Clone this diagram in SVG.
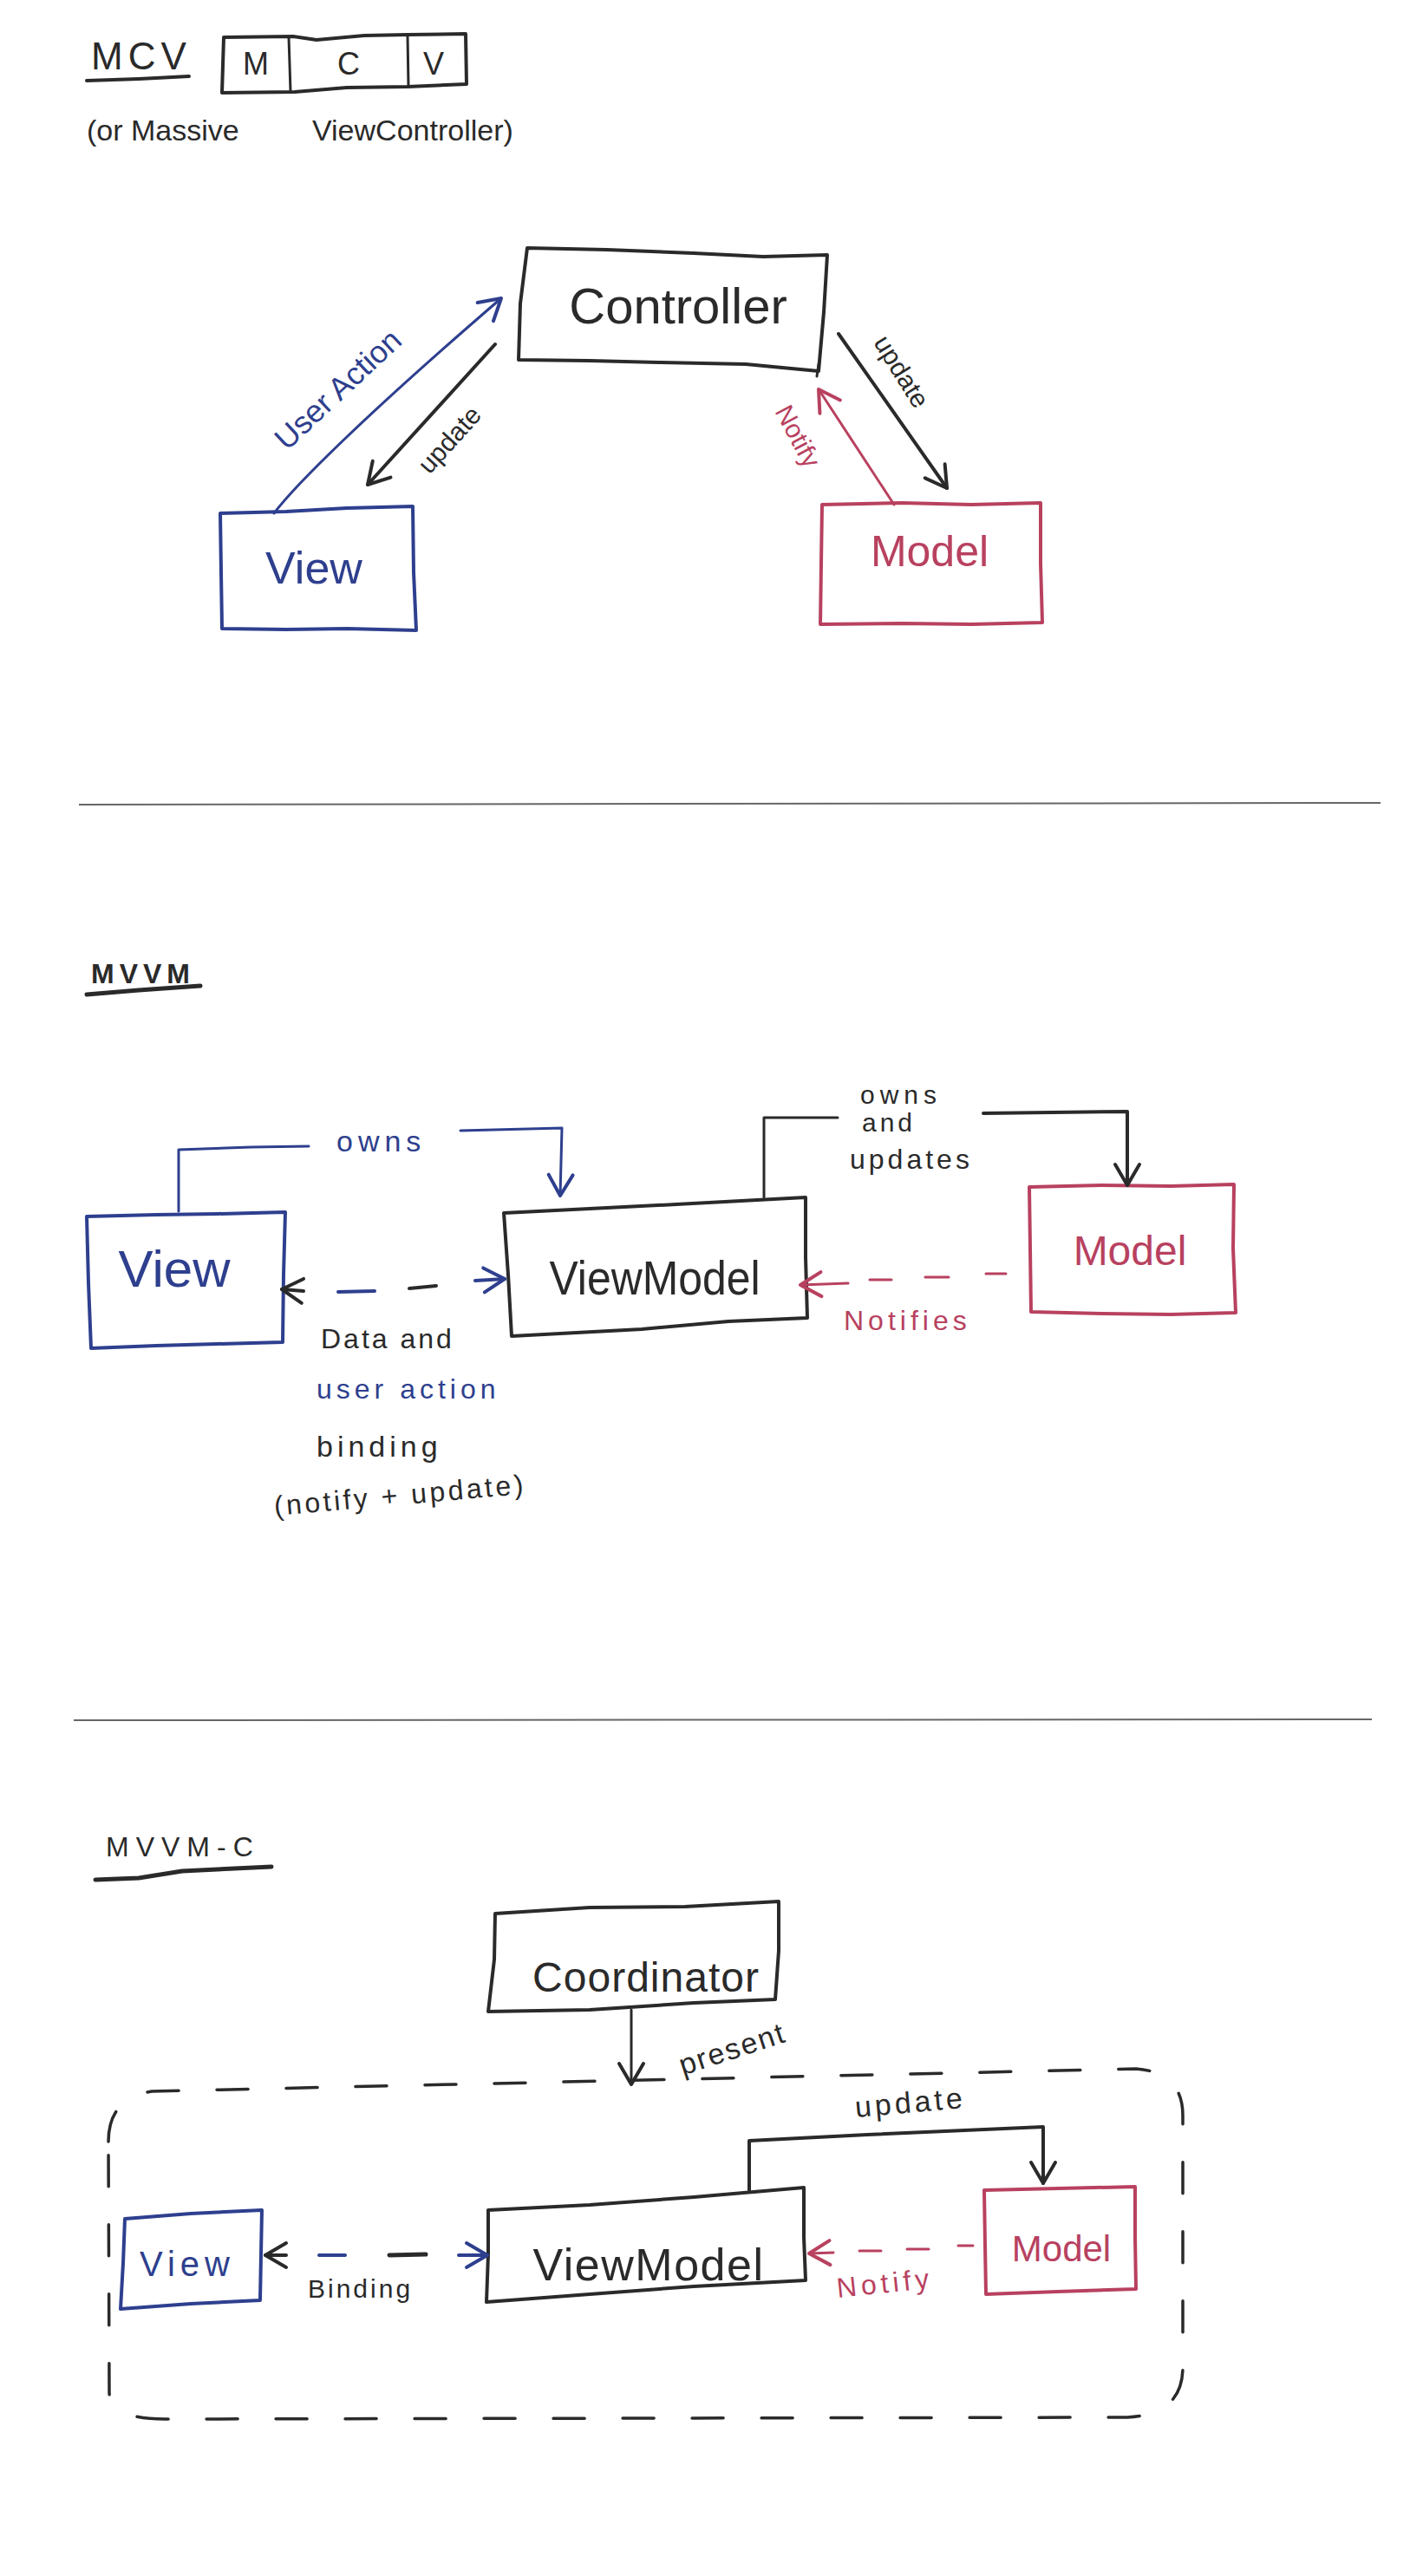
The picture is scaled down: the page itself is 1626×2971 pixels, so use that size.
<svg xmlns="http://www.w3.org/2000/svg" width="1626" height="2971" viewBox="0 0 1626 2971">
<style>
.ink{fill:none;stroke:#2a2a2a;stroke-width:4;stroke-linecap:round;stroke-linejoin:round}
.blue{stroke:#2e3f8e}
.red{stroke:#b8415f}
.thin{stroke-width:3}
.sep{fill:none;stroke:#666;stroke-width:2}
.dash{stroke-dasharray:36 44;stroke-width:3.5}
text{font-family:"Liberation Sans",Arial,sans-serif;fill:#2a2a2a}
.tb{fill:#2e3f8e}
.tr{fill:#b8415f}
.mid{text-anchor:middle}
</style>
<defs>
<marker id="ak" viewBox="-28 -18 32 36" refX="0" refY="0" markerWidth="32" markerHeight="36" markerUnits="userSpaceOnUse" orient="auto">
<path d="M-24,-14 L0,0 L-24,14" fill="none" stroke="#2a2a2a" stroke-width="4" stroke-linecap="round" stroke-linejoin="round"/>
</marker>
<marker id="ab" viewBox="-28 -18 32 36" refX="0" refY="0" markerWidth="32" markerHeight="36" markerUnits="userSpaceOnUse" orient="auto">
<path d="M-24,-14 L0,0 L-24,14" fill="none" stroke="#2e3f8e" stroke-width="4" stroke-linecap="round" stroke-linejoin="round"/>
</marker>
<marker id="ar" viewBox="-28 -18 32 36" refX="0" refY="0" markerWidth="32" markerHeight="36" markerUnits="userSpaceOnUse" orient="auto">
<path d="M-24,-14 L0,0 L-24,14" fill="none" stroke="#b8415f" stroke-width="4" stroke-linecap="round" stroke-linejoin="round"/>
</marker>
</defs>
<rect width="1626" height="2971" fill="#ffffff"/>

<!-- ===== Section 1: MCV ===== -->
<g id="mcv-title">
<text x="105" y="80" font-size="44" letter-spacing="6">MCV</text>
<path class="ink" d="M100,93 L160,91 L218,88"/>
</g>
<g id="mcv-box">
<path class="ink" d="M258,43 L338,42 L365,46 L420,41 L470,40 L537,39 L538,97 L470,100 L400,101 L340,106 L256,107 Z"/>
<path class="ink thin" d="M333,43 L335,105 M470,41 L471,100"/>
<text x="295" y="86" font-size="36" class="mid">M</text>
<text x="402" y="86" font-size="36" class="mid">C</text>
<text x="500" y="86" font-size="36" class="mid">V</text>
</g>
<g id="mcv-note">
<text y="162" font-size="34"><tspan x="100">(or Massive</tspan><tspan x="360">ViewController)</tspan></text>
</g>

<g id="controller">
<path class="ink" d="M608,286 L700,288 L800,292 L880,296 L954,294 L950,360 L944,428 L860,420 L760,418 L680,416 L598,415 L600,350 Z"/>
<text x="782" y="373" font-size="58" class="mid">Controller</text>
</g>
<g id="view1">
<path class="ink blue" d="M254,592 L330,590 L400,586 L476,584 L477,660 L480,727 L400,725 L330,726 L256,725 L255,660 Z"/>
<text x="362" y="673" font-size="52" class="mid tb">View</text>
</g>
<g id="model1">
<path class="ink red" d="M948,582 L1040,580 L1120,582 L1200,580 L1200,650 L1202,718 L1120,720 L1040,719 L946,720 L947,650 Z"/>
<text x="1072" y="653" font-size="50" class="mid tr">Model</text>
</g>

<g id="connectors-mcv">
<path class="ink blue thin" d="M316,592 C340,560 420,480 578,344" marker-end="url(#ab)"/>
<path class="ink" d="M571,397 L424,559" marker-end="url(#ak)"/>
<path class="ink" d="M967,385 L1092,563" marker-end="url(#ak)"/>
<path class="ink red thin" d="M1031,582 L944,449" marker-end="url(#ar)"/>
<path class="ink thin" d="M944,420 L942,434"/>
<text transform="translate(398,458) rotate(-43)" font-size="36" class="mid tb">User Action</text>
<text transform="translate(526,514) rotate(-48)" font-size="30" class="mid">update</text>
<text transform="translate(1031,434) rotate(58)" font-size="30" class="mid">update</text>
<text transform="translate(911,508) rotate(62)" font-size="30" class="mid tr">Notify</text>
</g>

<path class="sep" d="M91,928 L1592,926"/>

<!-- ===== Section 2: MVVM ===== -->
<g id="mvvm-title">
<text x="105" y="1134" font-size="32" font-weight="bold" letter-spacing="6">MVVM</text>
<path class="ink" style="stroke-width:5" d="M100,1147 L160,1142 L231,1137"/>
</g>
<g id="view2">
<path class="ink blue" d="M100,1403 L180,1401 L250,1400 L329,1398 L327,1470 L326,1548 L250,1550 L180,1552 L105,1555 L102,1480 Z"/>
<text x="201" y="1484" font-size="60" class="mid tb">View</text>
</g>
<g id="viewmodel2">
<path class="ink" d="M581,1399 L680,1394 L780,1389 L929,1381 L929,1450 L931,1520 L840,1524 L740,1533 L590,1541 L586,1470 Z"/>
<text x="755" y="1493" font-size="56" class="mid" textLength="243" lengthAdjust="spacingAndGlyphs">ViewModel</text>
</g>
<g id="model2">
<path class="ink red" d="M1187,1369 L1270,1367 L1350,1368 L1423,1366 L1422,1440 L1425,1514 L1350,1516 L1270,1515 L1189,1513 L1188,1440 Z"/>
<text x="1303" y="1459" font-size="48" class="mid tr">Model</text>
</g>

<g id="connectors-mvvm">
<path class="ink blue thin" d="M206,1397 L206,1326 L290,1323 L356,1322"/>
<path class="ink blue thin" d="M531,1304 L648,1301 L646,1379" marker-end="url(#ab)"/>
<text x="388" y="1328" font-size="34" letter-spacing="6" class="tb">owns</text>
<path class="ink thin" d="M881,1381 L881,1289 L966,1289"/>
<path class="ink" d="M1134,1284 L1300,1282 L1300,1367" marker-end="url(#ak)"/>
<text x="992" y="1273" font-size="30" letter-spacing="6">owns</text>
<text x="994" y="1305" font-size="30" letter-spacing="4">and</text>
<text x="980" y="1348" font-size="32" letter-spacing="4">updates</text>
<!-- binding -->
<path class="ink" d="M350,1489 L325,1487" marker-end="url(#ak)"/>
<path class="ink blue" d="M390,1490 L432,1489"/>
<path class="ink" d="M472,1486 L503,1483"/>
<path class="ink blue" d="M548,1477 L582,1475" marker-end="url(#ab)"/>
<text x="370" y="1555" font-size="32" letter-spacing="3">Data and</text>
<text x="365" y="1613" font-size="32" letter-spacing="5" class="tb">user action</text>
<text x="365" y="1680" font-size="34" letter-spacing="5">binding</text>
<text transform="translate(317,1748) rotate(-5)" font-size="32" letter-spacing="3.5">(notify + update)</text>
<!-- notifies -->
<path class="ink red thin" d="M978,1480 L923,1482" marker-end="url(#ar)"/>
<path class="ink red thin" d="M1003,1476 L1028,1476 M1067,1473 L1094,1473 M1137,1469 L1160,1469"/>
<text x="973" y="1534" font-size="32" letter-spacing="5" class="tr">Notifies</text>
</g>

<path class="sep" d="M85,1984 L1582,1983"/>

<!-- ===== Section 3: MVVM-C ===== -->
<g id="mvvmc-title">
<text x="122" y="2141" font-size="32" letter-spacing="8">MVVM-C</text>
<path class="ink" style="stroke-width:5" d="M110,2168 L160,2166 L210,2158 L313,2153"/>
</g>
<g id="coordinator">
<path class="ink" d="M571,2207 L680,2200 L790,2199 L898,2193 L898,2250 L894,2306 L800,2310 L680,2318 L563,2320 L570,2260 Z"/>
<text x="745" y="2297" font-size="48" letter-spacing="1" class="mid">Coordinator</text>
</g>
<g id="mvvmc-boundary">
<path class="ink dash" d="M125,2470 Q125,2420 175,2412 L1310,2386 Q1364,2390 1364,2440 L1364,2730 Q1364,2785 1300,2788 L190,2790 Q128,2790 126,2760 Z"/>
</g>
<g id="view3">
<path class="ink blue" d="M144,2559 L220,2553 L302,2549 L301,2600 L300,2653 L220,2657 L139,2663 L142,2610 Z"/>
<text x="216" y="2625" font-size="40" letter-spacing="6" class="mid tb">View</text>
</g>
<g id="viewmodel3">
<path class="ink" d="M563,2549 L680,2543 L800,2534 L927,2523 L927,2580 L929,2630 L800,2637 L680,2646 L561,2655 L563,2600 Z"/>
<text x="748" y="2630" font-size="52" letter-spacing="1.5" class="mid">ViewModel</text>
</g>
<g id="model3">
<path class="ink red" d="M1135,2526 L1220,2524 L1309,2522 L1309,2580 L1310,2640 L1220,2643 L1137,2646 L1136,2590 Z"/>
<text x="1224" y="2608" font-size="42" class="mid tr">Model</text>
</g>

<g id="connectors-mvvmc">
<path class="ink thin" d="M728,2318 L728,2404" marker-end="url(#ak)"/>
<text transform="translate(848,2374) rotate(-18)" font-size="34" letter-spacing="2" class="mid">present</text>
<path class="ink" d="M864,2526 L864,2469 L1000,2462 L1203,2453 L1203,2518" marker-end="url(#ak)"/>
<text transform="translate(987,2442) rotate(-5)" font-size="34" letter-spacing="4">update</text>
<path class="ink" d="M330,2601 L306,2601" marker-end="url(#ak)"/>
<path class="ink blue" d="M368,2601 L398,2601"/>
<path class="ink" style="stroke-width:5" d="M449,2601 L491,2600"/>
<path class="ink blue" d="M529,2601 L562,2601" marker-end="url(#ab)"/>
<text x="355" y="2650" font-size="30" letter-spacing="3">Binding</text>
<path class="ink red thin" d="M961,2598 L933,2599" marker-end="url(#ar)"/>
<path class="ink red thin" d="M991,2596 L1016,2596 M1046,2594 L1071,2594 M1105,2590 L1122,2590"/>
<text transform="translate(966,2650) rotate(-6)" font-size="32" letter-spacing="5" class="tr">Notify</text>
</g>
</svg>
